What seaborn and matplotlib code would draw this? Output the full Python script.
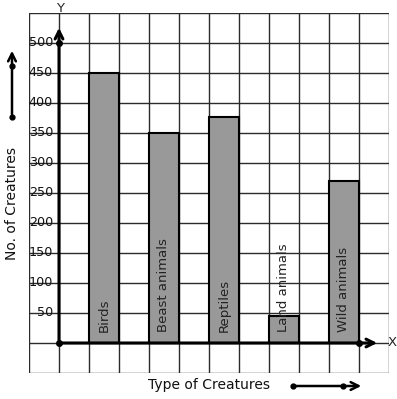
import numpy as np
import pandas as pd
import matplotlib
matplotlib.use("Agg")
import matplotlib.pyplot as plt
import seaborn as sns

# Data
creatures = ["Birds", "Beast animals", "Reptiles", "Land animals", "Wild animals"]
counts = [450, 350, 377, 45, 270]
y_ticks = [50, 100, 150, 200, 250, 300, 350, 400, 450, 500]

df = pd.DataFrame({"creature": creatures, "count": counts})
df["pos"] = [1.5 + 2 * i for i in range(len(creatures))]

sns.set_style("white")
plt.rcParams["font.family"] = ["DejaVu Sans"]

W, H = 397, 399
fig = plt.figure(figsize=(W / 100, H / 100), dpi=100)
# grid area: x 29..389 px, y 13..373 px
ax = fig.add_axes([29 / W, 1 - 373 / H, 360 / W, 360 / H])

sns.barplot(data=df, x="pos", y="count", native_scale=True, width=0.5,
            color="#999999", saturation=1, edgecolor="black", linewidth=1.5,
            ax=ax, zorder=3)

ax.set_xlim(-1, 11)
ax.set_ylim(-50, 550)

# square grid
for gx in range(-1, 12):
    ax.axvline(gx, color="#2b2b2b", lw=1, zorder=1)
for gy in range(-50, 551, 50):
    ax.axhline(gy, color="#2b2b2b", lw=1, zorder=1)
for s in ax.spines.values():
    s.set_visible(False)
ax.set_xticks([])
ax.set_yticks([])
ax.set_xlabel("")
ax.set_ylabel("")

# axes with arrows
ax.annotate("", xy=(0, 530), xytext=(0, 0),
            arrowprops=dict(arrowstyle="->", lw=2.2, color="black", mutation_scale=14),
            zorder=5)
ax.annotate("", xy=(10.7, 0), xytext=(0, 0),
            arrowprops=dict(arrowstyle="->", lw=2.2, color="black", mutation_scale=14),
            zorder=5)
ax.plot([0, 0, 10], [0, 500, 0], "o", color="black", ms=4, zorder=6, clip_on=False)
ax.text(0.05, 558, "Y", ha="center", va="center", fontsize=9.5, clip_on=False)
ax.text(10.95, 0, "X", ha="left", va="center", fontsize=9.5, clip_on=False)

# tick labels
for v in y_ticks:
    ax.text(-0.2, v, str(v), ha="right", va="center", fontsize=9.2,
            color="#111111", zorder=4)

# labels inside bars
for p, name in zip(df["pos"], df["creature"]):
    ax.text(p, 18, name, rotation=90, ha="center", va="bottom",
            fontsize=9.5, color="#222222", zorder=4)

# axis titles with little arrows
def px(x, y):
    return x / W, 1 - y / H

fig.text(*px(12, 203), "No. of Creatures", rotation=90, ha="center",
         va="center", fontsize=10, color="#111111")
fig.text(*px(209, 385), "Type of Creatures", ha="center", va="center",
         fontsize=10, color="#111111")

arrow = dict(arrowstyle="->", lw=1.8, color="black", mutation_scale=14)
fig.add_artist(matplotlib.patches.FancyArrowPatch(px(12, 117), px(12, 48),
               transform=fig.transFigure, **arrow))
fig.add_artist(matplotlib.patches.FancyArrowPatch(px(293, 386), px(364, 386),
               transform=fig.transFigure, **arrow))
for xx, yy in [(12, 117), (12, 66), (293, 386), (343, 386)]:
    fig.add_artist(matplotlib.lines.Line2D([xx / W], [1 - yy / H], marker="o",
                   ms=3.5, color="black", transform=fig.transFigure))

fig.savefig("out.png", dpi=100, facecolor="white")
